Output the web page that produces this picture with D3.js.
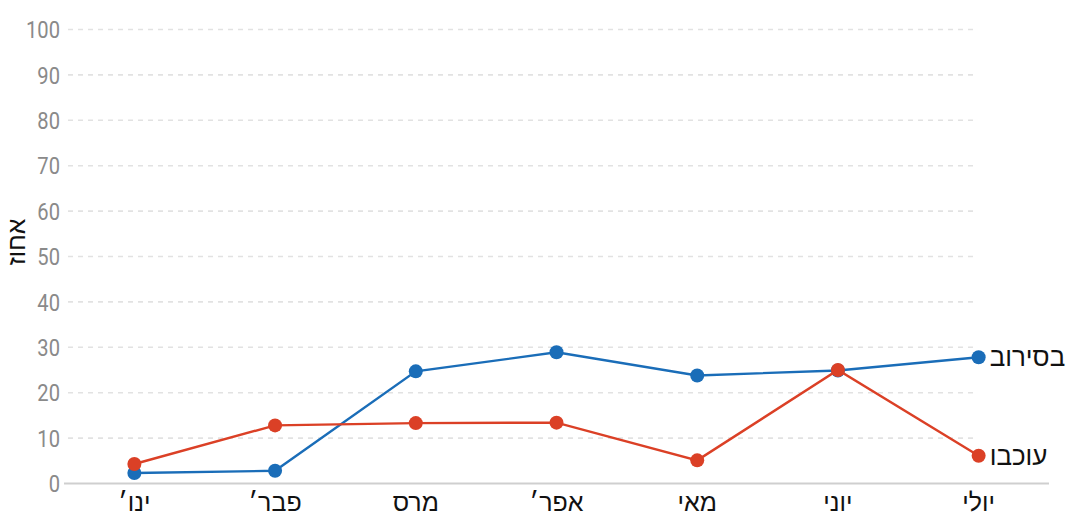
<!DOCTYPE html>
<html>
<head>
<meta charset="utf-8">
<script src="https://cdn.jsdelivr.net/npm/d3@7"></script>
<style>
  body { margin: 0; background: #fff; }
</style>
</head>
<body>
<svg id="chart"></svg>
<script>
const months = ["ינו׳", "פבר׳", "מרס", "אפר׳", "מאי", "יוני", "יולי"];
const refusedValues = [2.3, 2.8, 24.7, 28.9, 23.8, 24.9, 27.8];
const delayedValues = [4.3, 12.8, 13.3, 13.4, 5.1, 25.0, 6.1];
const seriesNames = ["בסירוב", "עוכבו"];
const seriesColors = ["#1a6db8", "#db4026"];
const yTicks = [0, 10, 20, 30, 40, 50, 60, 70, 80, 90, 100];
const yLabel = "אחוז";

var width = 1069, height = 518;
var hebFont = "Liberation Sans, sans-serif";

var svg = d3.select("#chart")
   .attr("width", width)
   .attr("height", height);

var x = d3.scalePoint()
   .domain(months)
   .range([64, 1049])
   .padding(0.5);

var y = d3.scaleLinear()
   .domain([0, 100])
   .range([483.5, 29.5]);

// gridlines
svg.append("g")
   .selectAll("line")
   .data(yTicks.filter(d => d > 0))
   .enter()
   .append("line")
   .attr("x1", 68)
   .attr("x2", 978)
   .attr("y1", d => y(d))
   .attr("y2", d => y(d))
   .attr("stroke", "#e2e2e2")
   .attr("stroke-width", 1.6)
   .attr("stroke-dasharray", "5,5");

// baseline
svg.append("line")
   .attr("x1", 64)
   .attr("x2", 1049)
   .attr("y1", y(0))
   .attr("y2", y(0))
   .attr("stroke", "#cfcfcf")
   .attr("stroke-width", 2);

// y tick labels (narrowed to look condensed)
svg.append("g")
   .selectAll("text")
   .data(yTicks)
   .enter()
   .append("text")
   .attr("transform", d => "translate(60," + y(d) + ") scale(0.84,1)")
   .attr("dy", "0.36em")
   .attr("text-anchor", "end")
   .attr("font-family", "Roboto, sans-serif")
   .attr("font-size", 24)
   .attr("fill", "#8a8a8a")
   .text(d => d);

// y axis label
svg.append("text")
   .attr("transform", "translate(25,242) rotate(-90)")
   .attr("text-anchor", "middle")
   .attr("font-family", hebFont)
   .attr("font-size", 25)
   .attr("fill", "#111")
   .text(yLabel);

// month labels
svg.append("g")
   .selectAll("text")
   .data(months)
   .enter()
   .append("text")
   .attr("x", d => x(d))
   .attr("y", 511)
   .attr("text-anchor", "middle")
   .attr("font-family", hebFont)
   .attr("font-size", 25)
   .attr("fill", "#111")
   .text(d => d);

var allSeries = [refusedValues, delayedValues];

var line = d3.line()
   .x((d, i) => x(months[i]))
   .y(d => y(d));

allSeries.forEach(function(vals, s) {
   var g = svg.append("g");
   g.append("path")
      .datum(vals)
      .attr("d", line)
      .attr("fill", "none")
      .attr("stroke", seriesColors[s])
      .attr("stroke-width", 2.4);
   g.selectAll("circle")
      .data(vals)
      .enter()
      .append("circle")
      .attr("cx", (d, i) => x(months[i]))
      .attr("cy", d => y(d))
      .attr("r", 7)
      .attr("fill", seriesColors[s]);
   g.append("text")
      .attr("x", x(months[months.length - 1]) + 11)
      .attr("y", y(vals[vals.length - 1]))
      .attr("dy", "0.35em")
      .attr("text-anchor", "start")
      .attr("font-family", hebFont)
      .attr("font-size", 26)
      .attr("fill", "#111")
      .text(seriesNames[s]);
});
</script>
</body>
</html>
